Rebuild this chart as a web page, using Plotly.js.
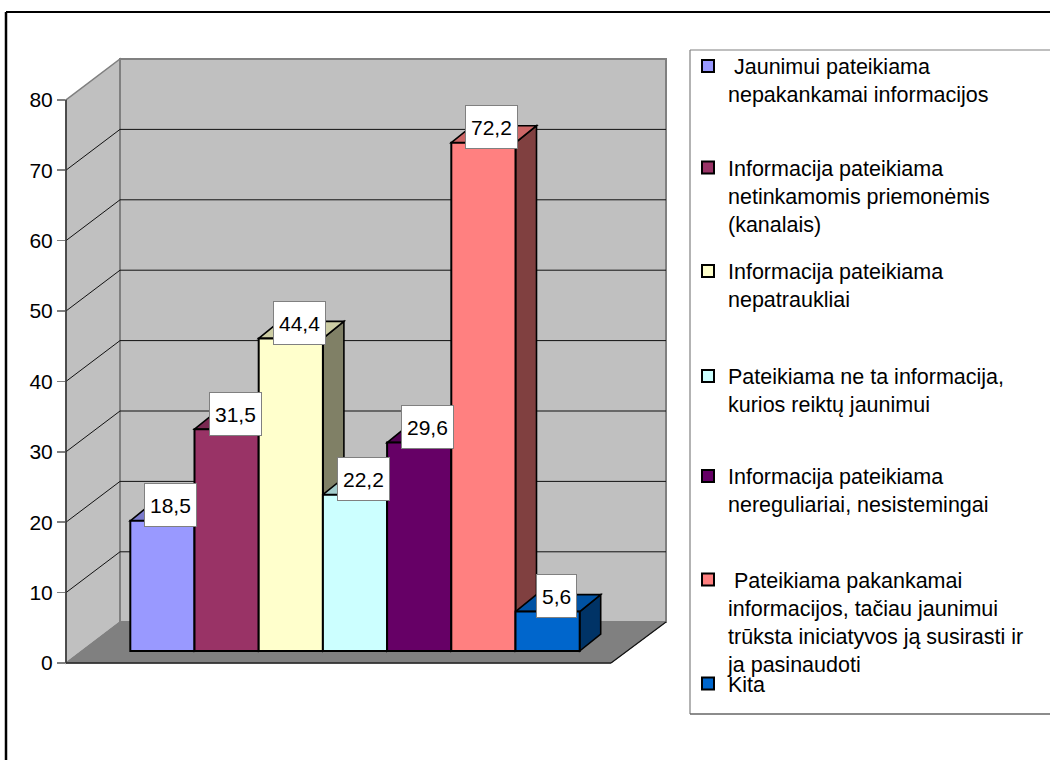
<!DOCTYPE html>
<html><head><meta charset="utf-8">
<script src="https://cdn.plot.ly/plotly-3.0.1.min.js"></script>
<style>html,body{margin:0;padding:0;background:#fff;overflow:hidden}</style>
</head><body><div id="chart" style="width:1050px;height:760px"></div>
<script>
const categories = [
  "\u00a0Jaunimui pateikiama<br>nepakankamai informacijos",
  "Informacija pateikiama<br>netinkamomis priemonėmis<br>(kanalais)",
  "Informacija pateikiama<br>nepatraukliai",
  "Pateikiama ne ta informacija,<br>kurios reiktų jaunimui",
  "Informacija pateikiama<br>nereguliariai, nesistemingai",
  "\u00a0Pateikiama pakankamai<br>informacijos, tačiau jaunimui<br>trūksta iniciatyvos ją susirasti ir<br>ja pasinaudoti",
  "Kita"
];
const values = [18.5, 31.5, 44.4, 22.2, 29.6, 72.2, 5.6];
const colors = ["#9999FF","#993366","#FFFFCC","#CCFFFF","#660066","#FF8080","#0066CC"];
const tickValues = [0,10,20,30,40,50,60,70,80];
const legendTops = [45.5,147,250.5,355.5,455.5,559,663];

const W=1050,H=760, FONT='"Liberation Sans", Arial, sans-serif';
const pxX=64.2, pxY=7.04;                // pixels per axis unit
const axL=66, axR=672, axB=663, axT=45;  // plotting rectangle
const barLeft=130.3, barBase=651;
const x0=-0.5-(barLeft-axL)/pxX, x1=-0.5+(axR-barLeft)/pxX;
const xv=p=>x0+(p-axL)/pxX;
const wallDx=54, wallDy=40.8, wallW=546;
const barDx=21/pxX, barDy=17/pxY;
const fx=x=>x/W, fy=y=>1-y/H;
const poly=pts=>'M'+pts.map(p=>fx(p[0]).toFixed(5)+','+fy(p[1]).toFixed(5)).join('L')+'Z';

function shade(hex,k){
  const n=parseInt(hex.slice(1),16);
  const c=[n>>16,(n>>8)&255,n&255].map(v=>Math.round(v*k));
  return 'rgb('+c.join(',')+')';
}
const shapes=[];
const paperPoly=(pts,fill,lc,lw)=>shapes.push({type:'path',xref:'paper',yref:'paper',path:poly(pts),fillcolor:fill,line:{color:lc,width:lw},layer:'below'});
const paperLine=(a,b,c,w,layer)=>shapes.push({type:'line',xref:'paper',yref:'paper',x0:fx(a[0]),y0:fy(a[1]),x1:fx(b[0]),y1:fy(b[1]),line:{color:c,width:w},layer:layer||'below'});

// outer frame and legend box
paperLine([6,12],[W,12],'#000',2);
paperLine([6,12],[6,H],'#000',2.5);
paperLine([690,50],[W,50],'#808080',1.2);
paperLine([690,50],[690,714],'#808080',1.2);
paperLine([690,714],[W,714],'#666',1.5);

// walls and floor
paperPoly([[66,99.8],[120,59],[120,622],[66,663]],'#C0C0C0','#808080',1.5);
paperPoly([[120,59],[666,59],[666,622],[120,622]],'#C0C0C0','#808080',2);
paperPoly([[66,663],[120,622],[666,622],[611,663]],'#808080','#808080',1);
paperLine([66,663],[611,663],'#222',1.5,'above');
paperLine([611,663],[666,622],'#111',1.2,'above');
paperLine([66,99.8],[66,663],'#333',1.5,'above');

// gridlines through the axis scales
tickValues.slice(1,-1).forEach(v=>{
  const d=wallDy/pxY;
  shapes.push({type:'path',xref:'x',yref:'y',layer:'below',
    path:`M${xv(66)},${v}L${xv(66+wallDx)},${v+d}L${xv(66+wallDx+wallW)},${v+d}`,
    line:{color:'#111',width:1}});
});

// side and top faces of the bars, painted left to right
values.forEach((v,i)=>{
  const l=i-0.5,r=i+0.5;
  shapes.push({type:'path',xref:'x',yref:'y2',layer:'below',
    path:`M${r},0L${r+barDx},${barDy}L${r+barDx},${v+barDy}L${r},${v}Z`,
    fillcolor:shade(colors[i],0.5),line:{color:'#000',width:1.6}});
  shapes.push({type:'path',xref:'x',yref:'y2',layer:'below',
    path:`M${l},${v}L${l+barDx},${v+barDy}L${r+barDx},${v+barDy}L${r},${v}Z`,
    fillcolor:shade(colors[i],0.8),line:{color:'#000',width:1.6}});
});

const traces=categories.map((name,i)=>({
  type:'bar',x:[i],y:[values[i]],width:1,name:name,xaxis:'x',yaxis:'y2',
  legend:i===0?'legend':'legend'+(i+1),
  marker:{color:colors[i],line:{color:'#000',width:2}},hoverinfo:'skip'
}));
// carries the visible value axis
traces.push({type:'scatter',mode:'none',x:[],y:[],xaxis:'x',yaxis:'y',showlegend:false,hoverinfo:'skip'});

const annotations=values.map((v,i)=>({
  xref:'x',yref:'y2',x:i,y:v,text:String(v).replace('.',','),showarrow:false,
  xshift:8.5,yshift:15.5,height:32,borderpad:5,borderwidth:1,bordercolor:'#808080',bgcolor:'#fff',
  font:{family:FONT,size:21,color:'#000'}
}));

const layout={
  width:W,height:H,margin:{l:0,r:0,t:0,b:0,autoexpand:false},
  paper_bgcolor:'#fff',plot_bgcolor:'rgba(0,0,0,0)',
  barmode:'overlay',hovermode:false,showlegend:true,
  xaxis:{domain:[fx(axL),fx(axR)],range:[x0,x1],type:'linear',visible:false,fixedrange:true},
  yaxis:{domain:[fy(axB),fy(axT)],range:[0,(axB-axT)/pxY],tickmode:'array',tickvals:tickValues,
    ticktext:tickValues.map(String),ticks:'outside',ticklen:8,tickwidth:1.5,tickcolor:'#808080',
    showgrid:false,zeroline:false,showline:false,anchor:'x',fixedrange:true,
    tickfont:{family:FONT,size:21,color:'#000'}},
  yaxis2:{domain:[fy(axB),fy(axT)],overlaying:'y',range:[-(axB-barBase)/pxY,(barBase-axT)/pxY],
    visible:false,fixedrange:true},
  shapes:shapes,annotations:annotations
};
legendTops.forEach((t,i)=>{
  layout[i===0?'legend':'legend'+(i+1)]={
    x:fx(700),xanchor:'left',y:fy(t),yanchor:'top',bgcolor:'rgba(0,0,0,0)',borderwidth:0,
    indentation:-12,valign:'top',itemclick:false,itemdoubleclick:false,
    font:{family:FONT,size:21.5,color:'#000'}
  };
});
Plotly.newPlot('chart',traces,layout,{displayModeBar:false,staticPlot:true});
</script></body></html>
